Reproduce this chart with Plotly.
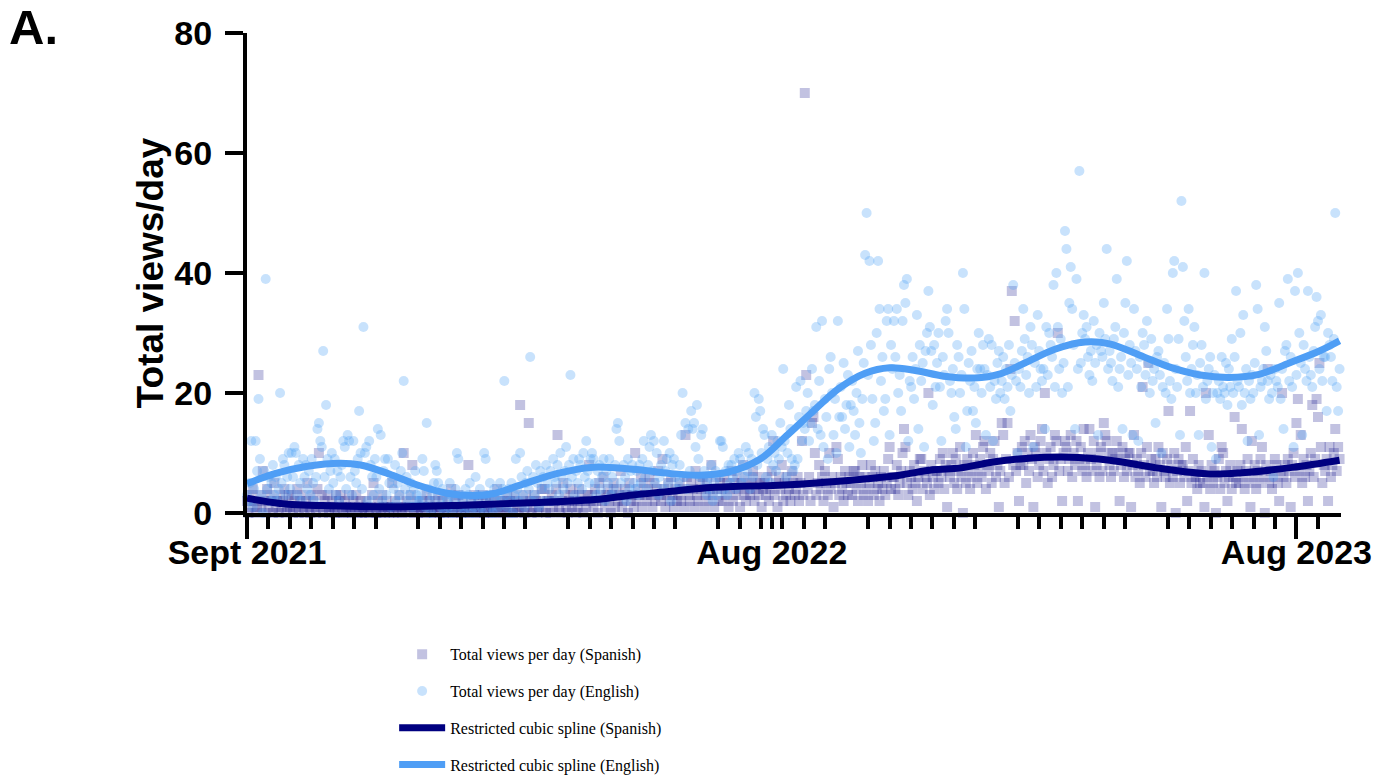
import plotly.graph_objects as go

# Axis labelling (x is the day index, day 0 = Sept 2021)
tick_days = [0, 365, 730]
tick_text = ["Sept 2021", "Aug 2022", "Aug 2023"]
y_ticks = [0, 20, 40, 60, 80]

# Total views per day, English pages (one row per 30-day block)
english_views = [
    3, 2, 5, 12, 1, 4, 12, 7, 19, 9, 3, 0, 7, 39, 4, 6, 2, 5, 8, 3, 6, 2, 4, 20, 5, 9, 8, 3, 6, 10,
    4, 10, 6, 11, 10, 3, 8, 5, 2, 9, 6, 8, 4, 7, 3, 9, 5, 2, 6, 14, 15, 12, 11, 27, 6, 18, 9, 4, 7, 10,
    5, 9, 3, 7, 2, 6, 8, 12, 11, 4, 13, 12, 6, 3, 12, 7, 5, 9, 17, 10, 4, 31, 10, 11, 2, 12, 8, 6, 3, 9,
    6, 14, 4, 13, 2, 7, 9, 3, 9, 5, 1, 6, 4, 8, 2, 5, 3, 7, 10, 22, 4, 6, 2, 3, 5, 1, 4, 7, 3, 2,
    2, 3, 9, 7, 1, 15, 4, 2, 0, 3, 5, 8, 7, 5, 2, 1, 4, 0, 3, 2, 1, 5, 3, 0, 2, 4, 10, 9, 1, 3,
    2, 0, 4, 1, 3, 5, 2, 0, 1, 6, 3, 2, 4, 1, 0, 10, 9, 3, 2, 5, 1, 0, 4, 2, 3, 1, 5, 2, 4, 22,
    3, 1, 4, 2, 5, 0, 3, 9, 4, 2, 10, 6, 3, 1, 5, 7, 4, 26, 2, 6, 3, 8, 5, 1, 7, 4, 6, 2, 8, 5,
    4, 7, 2, 9, 6, 5, 8, 3, 10, 6, 4, 7, 11, 5, 8, 23, 6, 9, 3, 7, 5, 9, 8, 4, 10, 6, 12, 7, 5, 9,
    10, 9, 5, 3, 7, 8, 4, 6, 9, 2, 7, 5, 9, 3, 6, 4, 8, 14, 15, 12, 5, 3, 8, 6, 2, 9, 4, 7, 8, 5,
    4, 7, 3, 8, 5, 9, 12, 6, 4, 8, 11, 13, 7, 12, 5, 10, 3, 6, 8, 4, 12, 7, 9, 5, 10, 2, 8, 9, 6, 4,
    5, 8, 13, 20, 6, 15, 4, 14, 7, 17, 14, 15, 11, 18, 9, 6, 13, 14, 7, 5, 3, 6, 4, 8, 2, 5, 7, 3, 6, 12,
    12, 11, 4, 7, 3, 8, 5, 8, 6, 9, 4, 7, 10, 9, 5, 8, 6, 11, 7, 10, 4, 9, 6, 20, 16, 8, 19, 17, 10, 14,
    13, 6, 9, 11, 5, 13, 8, 10, 7, 12, 9, 15, 11, 24, 12, 6, 10, 18, 14, 9, 7, 8, 21, 9, 16, 22, 12, 15, 14, 17,
    20, 12, 15, 24, 17, 18, 31, 14, 22, 13, 32, 11, 19, 16, 9, 24, 26, 20, 13, 19, 10, 32, 16, 21, 16, 25, 14, 18, 23, 11,
    18, 22, 17, 13, 20, 27, 15, 10, 19, 25, 43, 50, 23, 42, 28, 19, 12, 15, 30, 42, 34, 22, 26, 17, 19, 32, 34, 13, 28, 24,
    32, 26, 34, 20, 23, 17, 32, 38, 35, 39, 12, 22, 21, 26, 19, 24, 33, 14, 28, 22, 25, 11, 27, 30, 37, 31, 27, 18, 28, 21,
    25, 30, 21, 12, 26, 23, 32, 34, 30, 22, 20, 24, 16, 14, 28, 26, 20, 23, 40, 34, 11, 17, 25, 22, 27, 17, 21, 15, 24, 30,
    24, 20, 28, 24, 13, 23, 29, 21, 28, 12, 22, 19, 25, 27, 20, 22, 26, 19, 24, 21, 28, 17, 23, 38, 25, 22, 10, 24, 21, 27,
    34, 29, 23, 26, 20, 31, 28, 11, 25, 21, 33, 27, 24, 22, 24, 14, 31, 23, 30, 28, 26, 38, 21, 40, 31, 24, 29, 20, 25, 47,
    44, 21, 35, 41, 34, 28, 14, 39, 24, 57, 25, 30, 33, 29, 31, 26, 23, 27, 22, 32, 25, 28, 13, 30, 27, 26, 35, 29, 44, 24,
    27, 25, 22, 29, 31, 39, 21, 24, 26, 14, 30, 35, 42, 23, 28, 25, 13, 34, 27, 24, 12, 26, 21, 30, 28, 23, 32, 25, 20, 29,
    22, 24, 15, 26, 27, 23, 10, 21, 25, 20, 34, 29, 22, 19, 40, 42, 24, 21, 29, 13, 52, 41, 32, 26, 22, 34, 20, 24, 28, 31,
    20, 23, 13, 25, 28, 21, 40, 19, 22, 24, 26, 11, 20, 23, 9, 20, 22, 19, 26, 21, 20, 25, 18, 24, 21, 29, 20, 26, 37, 22,
    21, 30, 18, 33, 20, 24, 12, 22, 19, 23, 20, 25, 38, 34, 13, 21, 22, 24, 31, 27, 22, 19, 23, 20, 6, 24, 22, 21, 35, 19,
    24, 14, 27, 28, 39, 22, 26, 21, 11, 37, 23, 40, 30, 25, 13, 28, 24, 22, 37, 26, 23, 21, 27, 31, 36, 32, 24, 33, 22, 26,
    26, 17, 30, 28, 26, 22, 29, 50, 21, 17, 24,
]

# Total views per day, Spanish pages
spanish_views = [
    2, 0, 3, 1, 4, 2, 0, 1, 23, 3, 1, 7, 2, 0, 4, 1, 3, 2, 0, 5, 1, 2, 0, 3, 1, 2, 4, 0, 1, 3,
    1, 3, 0, 2, 1, 4, 0, 2, 3, 1, 0, 2, 5, 1, 0, 3, 2, 1, 0, 4, 10, 1, 3, 0, 2, 1, 3, 0, 1, 2,
    1, 0, 3, 0, 2, 3, 1, 0, 2, 1, 0, 3, 1, 0, 2, 1, 3, 0, 1, 2, 0, 1, 0, 2, 1, 0, 1, 3, 5, 0,
    0, 2, 1, 0, 3, 1, 0, 2, 1, 0, 1, 5, 0, 2, 1, 0, 3, 1, 0, 10, 1, 2, 0, 1, 3, 8, 0, 1, 2, 0,
    1, 0, 2, 1, 0, 3, 1, 2, 0, 1, 0, 2, 1, 3, 0, 1, 2, 0, 1, 0, 2, 1, 4, 0, 1, 2, 0, 3, 1, 0,
    2, 1, 0, 1, 8, 0, 2, 1, 3, 0, 1, 2, 0, 1, 3, 0, 2, 1, 0, 2, 1, 0, 3, 1, 4, 0, 2, 1, 0, 2,
    1, 3, 0, 2, 1, 0, 2, 3, 1, 0, 18, 1, 2, 0, 3, 1, 15, 2, 0, 1, 3, 2, 0, 1, 2, 4, 1, 4, 0, 2,
    2, 0, 3, 1, 2, 4, 13, 1, 0, 2, 5, 3, 1, 0, 2, 4, 1, 3, 2, 0, 1, 4, 2, 3, 0, 2, 1, 3, 8, 2,
    3, 1, 4, 2, 0, 5, 3, 2, 6, 1, 3, 4, 2, 0, 3, 5, 1, 4, 2, 3, 7, 1, 2, 4, 3, 0, 5, 2, 3, 1,
    10, 2, 4, 3, 6, 1, 5, 3, 2, 4, 6, 3, 1, 5, 2, 4, 7, 3, 2, 9, 4, 1, 3, 5, 2, 6, 3, 1, 4, 2,
    3, 5, 2, 4, 1, 13, 6, 3, 2, 5, 4, 1, 7, 3, 2, 5, 4, 6, 1, 3, 5, 2, 4, 8, 3, 1, 6, 4, 2, 5,
    4, 2, 6, 3, 5, 1, 4, 7, 2, 5, 3, 6, 4, 1, 5, 8, 3, 2, 6, 4, 3, 5, 7, 2, 4, 6, 3, 5, 1, 4,
    5, 3, 6, 2, 4, 7, 12, 3, 5, 1, 6, 4, 8, 2, 5, 3, 6, 4, 2, 7, 5, 3, 4, 6, 2, 5, 12, 3, 70, 23,
    4, 6, 2, 15, 16, 10, 3, 5, 8, 4, 6, 2, 7, 5, 3, 10, 4, 6, 1, 5, 11, 9, 3, 6, 4, 2, 7, 5, 3, 6,
    5, 3, 7, 7, 4, 2, 6, 5, 8, 3, 6, 4, 2, 5, 8, 6, 3, 7, 4, 5, 2, 6, 4, 7, 3, 5, 9, 11, 4, 6,
    6, 4, 8, 3, 5, 7, 10, 14, 11, 5, 3, 7, 6, 4, 8, 5, 2, 6, 9, 9, 4, 7, 6, 5, 20, 3, 8, 6, 4, 7,
    7, 5, 9, 6, 10, 4, 8, 1, 7, 6, 8, 10, 5, 9, 4, 7, 11, 6, 0, 8, 5, 9, 7, 4, 6, 10, 8, 13, 5, 7,
    9, 6, 11, 12, 4, 8, 7, 10, 5, 9, 12, 6, 8, 1, 7, 15, 13, 5, 9, 15, 6, 24, 37, 8, 32, 7, 10, 2, 8, 11,
    8, 12, 5, 10, 7, 13, 9, 1, 11, 10, 6, 8, 12, 14, 7, 20, 10, 5, 9, 11, 6, 8, 13, 12, 30, 7, 9, 2, 10, 12,
    11, 7, 9, 13, 6, 10, 8, 12, 2, 9, 11, 7, 14, 8, 6, 10, 14, 9, 7, 12, 1, 8, 10, 6, 11, 7, 15, 13, 12, 10,
    8, 6, 10, 7, 9, 12, 10, 2, 8, 11, 6, 9, 7, 10, 10, 1, 8, 13, 6, 9, 7, 5, 10, 21, 8, 6, 11, 25, 7, 9,
    7, 5, 9, 6, 11, 8, 1, 10, 7, 6, 9, 17, 5, 8, 6, 10, 0, 7, 9, 5, 8, 8, 6, 11, 2, 7, 17, 5, 9, 6,
    6, 4, 8, 5, 7, 5, 1, 20, 6, 13, 4, 8, 5, 7, 0, 6, 9, 4, 11, 10, 5, 7, 2, 6, 8, 4, 6, 16, 5, 7,
    5, 8, 14, 6, 4, 7, 9, 5, 1, 12, 6, 8, 4, 7, 5, 9, 11, 6, 0, 8, 24, 5, 7, 4, 6, 9, 8, 5, 2, 7,
    20, 6, 8, 5, 9, 7, 1, 8, 10, 6, 15, 19, 7, 13, 5, 9, 6, 8, 2, 7, 10, 18, 6, 9, 19, 16, 25, 11, 5, 8,
    7, 9, 2, 11, 6, 8, 10, 14, 7, 11, 9,
]

days = list(range(len(english_views)))

# Restricted cubic spline fits, read at a set of days
en_fit_days = [0, 20, 42, 65, 79, 99, 118, 139, 157, 171, 192, 216, 239, 252, 273, 294, 315, 336,
               357, 375, 394, 412, 430, 447, 464, 485, 506, 524, 541, 562, 583, 600, 621, 642,
               663, 683, 704, 725, 746, 760]
en_fit_views = [4.9, 6.6, 7.8, 8.3, 8.0, 6.5, 4.7, 3.3, 2.9, 3.2, 4.8, 6.6, 7.6, 7.6, 7.2, 6.6, 6.3, 6.9,
                9.0, 12.8, 17.0, 20.8, 23.3, 24.2, 23.8, 22.8, 22.5, 23.2, 25.0, 27.3, 28.5, 28.2, 26.3, 24.3,
                23.0, 22.6, 23.1, 25.0, 27.0, 28.7]

es_fit_days = [0, 23, 58, 104, 150, 197, 245, 268, 292, 315, 338, 362, 384, 407, 431, 454, 477, 496,
               519, 542, 572, 600, 635, 670, 692, 727, 760]
es_fit_views = [2.45, 1.6, 1.2, 1.05, 1.3, 1.7, 2.3, 3.0, 3.55, 4.1, 4.4, 4.55, 4.8, 5.2, 5.7, 6.3, 7.2, 7.5,
                8.5, 9.1, 9.3, 8.8, 7.45, 6.5, 6.7, 7.6, 8.8]

# Half-month minor ticks; every seventh slot is left out
slot = 730 / 49
minor_days = [k * slot for k in range(1, 51) if k % 7 != 0] + [365]

NAVY = "#000080"
SKY = "#4f9ef5"
SANS = "Liberation Sans, Arial, sans-serif"
bold = dict(family=SANS, size=34, color="black", weight="bold")

fig = go.Figure()
fig.add_trace(go.Scatter(
    x=days, y=spanish_views, mode="markers", name="Total views per day (Spanish)",
    marker=dict(symbol="square", size=10, color="rgba(0,0,128,0.24)", line=dict(width=0)),
    cliponaxis=False, legendgroup="a"))
fig.add_trace(go.Scatter(
    x=days, y=english_views, mode="markers", name="Total views per day (English)",
    marker=dict(symbol="circle", size=10, color="rgba(77,160,245,0.31)", line=dict(width=0)),
    cliponaxis=False, legendgroup="b"))
fig.add_trace(go.Scatter(
    x=es_fit_days, y=es_fit_views, mode="lines", name="Restricted cubic spline (Spanish)",
    line=dict(shape="spline", smoothing=1, width=7, color=NAVY), legendgroup="c"))
fig.add_trace(go.Scatter(
    x=en_fit_days, y=en_fit_views, mode="lines", name="Restricted cubic spline (English)",
    line=dict(shape="spline", smoothing=1, width=7, color=SKY), legendgroup="d"))
# carrier for the long end-of-range ticks
fig.add_trace(go.Scatter(x=[None], y=[None], xaxis="x2", showlegend=False, hoverinfo="skip"))

x_range = [0, 761]
fig.update_layout(
    width=1392, height=778,
    margin=dict(l=247, r=51, t=33, b=265, pad=0, autoexpand=False),
    paper_bgcolor="white", plot_bgcolor="white",
    xaxis=dict(
        range=x_range, showgrid=False, zeroline=False, automargin=False,
        showline=True, linewidth=4, linecolor="black",
        tickmode="array", tickvals=tick_days, ticktext=tick_text,
        ticks="outside", ticklen=12, tickwidth=4, tickcolor="black",
        tickfont=bold, ticklabelstandoff=-6,
        minor=dict(tickmode="array", tickvals=minor_days, ticks="outside",
                   ticklen=12, tickwidth=4, tickcolor="black", showgrid=False),
    ),
    xaxis2=dict(
        range=x_range, overlaying="x", anchor="y", side="bottom", automargin=False,
        showgrid=False, zeroline=False, showline=True, linewidth=4, linecolor="black",
        tickmode="array", tickvals=[tick_days[0], tick_days[2]],
        ticks="outside", ticklen=22, tickwidth=4, tickcolor="black",
        showticklabels=False,
    ),
    yaxis=dict(
        range=[0, 80], showgrid=False, zeroline=False, automargin=False,
        showline=True, linewidth=4, linecolor="black",
        tickmode="array", tickvals=y_ticks,
        ticks="outside", ticklen=18, tickwidth=4, tickcolor="black",
        tickfont=bold, ticklabelstandoff=6,
        title=dict(text="Total views/day", standoff=0,
                   font=dict(family=SANS, size=37, color="black", weight="bold")),
    ),
    showlegend=True,
    legend=dict(
        x=0.1345, y=-0.259, xanchor="left", yanchor="top",
        traceorder="grouped", tracegroupgap=13, itemwidth=46,
        font=dict(family="Liberation Serif, Times New Roman, serif", size=16, color="black"),
        bgcolor="rgba(0,0,0,0)",
    ),
    annotations=[dict(
        text="A.", xref="paper", yref="paper", x=-0.1952, y=1.0115,
        xanchor="center", yanchor="middle", showarrow=False,
        font=dict(family=SANS, size=49, color="black", weight="bold"),
    )],
)

fig.write_html("out.html")
